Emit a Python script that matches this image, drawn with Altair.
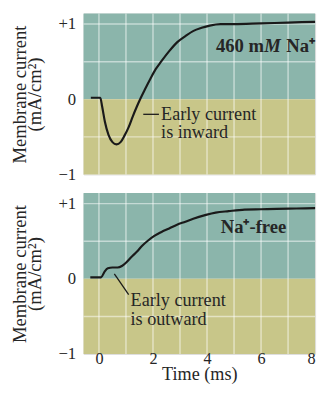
import altair as alt
import pandas as pd

# ---- data ----
top_t = [-0.3, 0.05, 0.12, 0.22, 0.35, 0.5, 0.65, 0.8, 0.95, 1.1, 1.25, 1.4, 1.55, 1.7, 1.9,
         2.1, 2.3, 2.6, 2.9, 3.2, 3.5, 3.8, 4.1, 4.5, 5.0, 6.0, 7.0, 8.0]
top_v = [0.02, 0.02, -0.1, -0.3, -0.47, -0.57, -0.6, -0.57, -0.48, -0.37, -0.23, -0.1, 0.02,
         0.13, 0.27, 0.4, 0.5, 0.64, 0.76, 0.84, 0.91, 0.95, 0.98, 1.0, 1.0, 1.01, 1.02, 1.03]

bot_t = [-0.32, 0.08, 0.2, 0.33, 0.5, 0.69, 0.85, 0.99, 1.2, 1.4, 1.6, 1.82, 2.05, 2.3, 2.6,
         2.89, 3.2, 3.49, 3.96, 4.32, 4.8, 5.39, 6.0, 6.58, 7.3, 8.0]
bot_v = [0.02, 0.02, 0.09, 0.14, 0.15, 0.15, 0.17, 0.21, 0.29, 0.36, 0.44, 0.51, 0.57, 0.62,
         0.67, 0.72, 0.76, 0.80, 0.85, 0.88, 0.90, 0.92, 0.925, 0.93, 0.935, 0.94]

grid_t = [0, 1, 2, 3, 4, 5, 6, 7]
grid_v = [1, 0.5, -0.5]
band_lo = [0, -1]
band_hi = [1.14, 0]
band_color = ["#8BB5AB", "#C8C689"]
x_ticks = [0, 2, 4, 6, 8]
y_ticks = [-1, 0, 1]

# annotations
top_note_lines = ["Early current", "is inward"]
top_note_t = [2.3, 2.3]
top_note_v = [-0.28, -0.51]
top_leader_t = [1.64, 2.22]
top_leader_v = [-0.2, -0.2]

bot_note_lines = ["Early current", "is outward"]
bot_note_t = [1.17, 1.17]
bot_note_v = [-0.36, -0.61]
bot_leader_t = [0.57, 1.1]
bot_leader_v = [0.065, -0.21]

XDOM = [-0.57, 8.0]
YDOM = [-1, 1.14]
W, H = 236, 164
SERIF = "Liberation Serif"
INK = "#262626"

xs = alt.Scale(domain=XDOM, nice=False, zero=False)
ys = alt.Scale(domain=YDOM, nice=False, zero=False)

yaxis = alt.Axis(values=y_ticks, title=["Membrane current", "(mA/cm²)"],
                 labelExpr="datum.value > 0 ? '+' + datum.label : datum.label",
                 domain=False, ticks=False, grid=False,
                 labelFont=SERIF, labelFontSize=17, labelColor=INK, labelPadding=8,
                 titleFont=SERIF, titleFontSize=19, titleFontWeight="normal",
                 titleColor=INK, titleLineHeight=15, titlePadding=14)

xaxis_b = alt.Axis(values=x_ticks, title="Time (ms)", domain=False, ticks=False, grid=False,
                   labelFont=SERIF, labelFontSize=16.5, labelColor=INK, labelPadding=-3,
                   titleFont=SERIF, titleFontSize=18.5, titleFontWeight="normal",
                   titleColor=INK, titlePadding=-3, zindex=1)


def panel(t, v, notes, note_t, note_v, lt, lv, xaxis, extra):
    def X(f):
        return alt.X(f, scale=xs, axis=xaxis)

    def Y(f):
        return alt.Y(f, scale=ys, axis=yaxis)

    bands = alt.Chart(pd.DataFrame({"lo": band_lo, "hi": band_hi, "c": band_color})).mark_rect().encode(
        x=alt.value(0), x2=alt.value(W),
        y=Y("lo:Q"), y2="hi:Q",
        color=alt.Color("c:N", scale=None))
    vgrid = alt.Chart(pd.DataFrame({"t": grid_t})).mark_rule(
        color="white", strokeOpacity=0.5, strokeWidth=1.5).encode(x=X("t:Q"))
    hgrid = alt.Chart(pd.DataFrame({"v": grid_v})).mark_rule(
        color="white", strokeOpacity=0.5, strokeWidth=1.5).encode(y=Y("v:Q"))
    curve = alt.Chart(pd.DataFrame({"t": t, "v": v})).mark_line(
        color="#1a1a1a", strokeWidth=2.2, interpolate="monotone").encode(
        x=X("t:Q"), y=Y("v:Q"))
    leader = alt.Chart(pd.DataFrame({"t": lt, "v": lv})).mark_line(
        color="#1a1a1a", strokeWidth=1.3).encode(x=X("t:Q"), y=Y("v:Q"))
    note = alt.Chart(pd.DataFrame({"s": notes, "t": note_t, "v": note_v})).mark_text(
        font=SERIF, fontSize=18.5, align="left", baseline="alphabetic", color=INK).encode(
        x=X("t:Q"), y=Y("v:Q"), text="s:N")
    layers = [bands, vgrid, hgrid, curve, leader, note]
    for (s, tt, vv, dx, italic, align) in extra:
        layers.append(alt.Chart(pd.DataFrame({"s": [s], "t": [tt], "v": [vv]})).mark_text(
            font=SERIF, fontSize=19, fontWeight="bold",
            fontStyle="italic" if italic else "normal",
            align=align, baseline="alphabetic", color=INK, dx=dx).encode(
            x=X("t:Q"), y=Y("v:Q"), text="s:N"))
    return alt.layer(*layers).properties(width=W, height=H)


label_t, label_v = 8.0, 0.63
top = panel(top_t, top_v, top_note_lines, top_note_t, top_note_v,
            top_leader_t, top_leader_v, None,
            [("Na⁺", label_t, label_v, 0, False, "right"),
             ("M", label_t, label_v, -35, True, "right"),
             ("460 m", label_t, label_v, -52, False, "right")])

bot = panel(bot_t, bot_v, bot_note_lines, bot_note_t, bot_note_v,
            bot_leader_t, bot_leader_v, xaxis_b,
            [("Na⁺-free", 5.72, 0.61, 0, False, "center")])

chart = alt.vconcat(top, bot, spacing=8).properties(
    padding={"left": 2, "top": 0, "right": 0, "bottom": 2}
).configure_view(stroke=None).configure(background="white")

chart.save("out.html", embed_options={"renderer": "svg", "actions": False})
